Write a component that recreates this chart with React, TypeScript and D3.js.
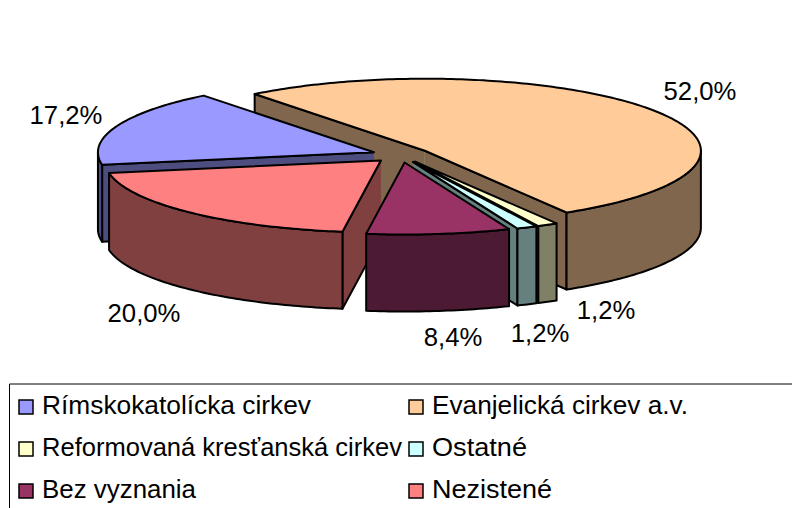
import React from 'react';
import * as d3 from 'd3';

// values from the data labels, in pie order
const categories = ['Rímskokatolícka cirkev', 'Evanjelická cirkev a.v.', 'Reformovaná kresťanská cirkev', 'Ostatné', 'Bez vyznania', 'Nezistené'];
const shares = [17.2, 52.0, 1.2, 1.2, 8.4, 20.0];
const topColors = ['#9999ff', '#ffcc99', '#ffffcc', '#ccffff', '#993366', '#ff8080'];
const sideColors = ['#4d4d80', '#80664d', '#808066', '#668080', '#4d1a33', '#804040'];
const labelTexts = ['17,2%', '52,0%', '1,2%', '1,2%', '8,4%', '20,0%'];
const labelSpots = [[66, 115], [700, 91], [606, 310], [540, 333], [453, 337], [144, 313]];

const width = 792;
const height = 508;
const centerX = 401;
const centerY = 155;
const radiusX = 276;
const radiusY = 72;
const depth = 77;
const explode = 0.105;
const startAngle = (260 * Math.PI) / 180;
const fontFamily = '"Liberation Sans", Arial, sans-serif';

const legendColumns = [19, 409];
const legendRows = [407, 449, 491];
// the original's hinted text runs wider than the plain font, so fit each entry
const legendTextWidths = [269, 256, 360, 95, 154, 120];

const pie = d3.pie<number>().sort(null).startAngle(startAngle).endAngle(startAngle + 2 * Math.PI);
const poly = d3.line<number[]>().curve(d3.curveLinear);

const TWO_PI = 2 * Math.PI;

// sample the rim between two angles so the ellipse comes out smooth
const rim = (apex: number[], a0: number, a1: number, drop = 0) => {
  const steps = Math.max(2, Math.ceil(Math.abs(a1 - a0) * 60));
  return d3.range(steps + 1).map((i) => {
    const a = a0 + ((a1 - a0) * i) / steps;
    return [apex[0] + radiusX * Math.sin(a), apex[1] - radiusY * Math.cos(a) + drop];
  });
};

const point = (apex: number[], a: number) => [apex[0] + radiusX * Math.sin(a), apex[1] - radiusY * Math.cos(a)];

const wallBetween = (p: number[], q: number[]) => poly([p, q, [q[0], q[1] + depth], [p[0], p[1] + depth]]);

// front-facing stretches of the outer wall (lower half of the ellipse)
const frontRanges = (a0: number, a1: number) => {
  const out: number[][] = [];
  for (let k = 0; k < 2; k++) {
    const lo = Math.max(a0, Math.PI / 2 + k * TWO_PI);
    const hi = Math.min(a1, (3 * Math.PI) / 2 + k * TWO_PI);
    if (hi > lo) out.push([lo, hi]);
  }
  return out;
};

const slices = pie(shares)
  .map((d, i) => {
    const mid = (d.startAngle + d.endAngle) / 2;
    const apex = [centerX + explode * radiusX * Math.sin(mid), centerY - explode * radiusY * Math.cos(mid)];
    return { i, a0: d.startAngle, a1: d.endAngle, apex };
  })
  .sort((a, b) => d3.ascending(a.apex[1], b.apex[1]));

const App = () => {
  return (
    <svg
      width={width}
      height={height}
      viewBox={`0 0 ${width} ${height}`}
      style={{ position: 'fixed', left: 0, top: 0, background: '#fff' }}
    >
      {slices.map(({ i, a0, a1, apex }) => {
        const startVisible = Math.sin(a0) < 0;
        const endVisible = Math.sin(a1) > 0;
        return (
          <g key={categories[i]} stroke="#000" strokeWidth={2} strokeLinejoin="round">
            {startVisible && <path d={wallBetween(apex, point(apex, a0)) as string} fill={sideColors[i]} />}
            {endVisible && <path d={wallBetween(apex, point(apex, a1)) as string} fill={sideColors[i]} />}
            {frontRanges(a0, a1).map(([lo, hi]) => (
              <path
                key={lo}
                d={poly([...rim(apex, lo, hi), ...rim(apex, hi, lo, depth)]) + 'Z'}
                fill={sideColors[i]}
              />
            ))}
            <path d={poly([apex, ...rim(apex, a0, a1)]) + 'Z'} fill={topColors[i]} />
          </g>
        );
      })}

      {labelTexts.map((t, i) => (
        <text
          key={i}
          x={labelSpots[i][0]}
          y={labelSpots[i][1]}
          textAnchor="middle"
          dominantBaseline="central"
          fontFamily={fontFamily}
          fontSize={25.7}
          fill="#000"
        >
          {t}
        </text>
      ))}

      <path d="M792,384H9.5V508" fill="none" stroke="#000" strokeWidth={1} />
      {categories.map((name, i) => {
        const x = legendColumns[i % 2];
        const y = legendRows[Math.floor(i / 2)];
        return (
          <g key={name}>
            <rect x={x} y={y - 7} width={14} height={14} fill={topColors[i]} stroke="#000" strokeWidth={1.5} />
            <text
              x={x + 23}
              y={y + 7}
              fontFamily={fontFamily}
              fontSize={25.6}
              fill="#000"
              textLength={legendTextWidths[i]}
              lengthAdjust="spacingAndGlyphs"
            >
              {name}
            </text>
          </g>
        );
      })}
    </svg>
  );
};

export default App;
